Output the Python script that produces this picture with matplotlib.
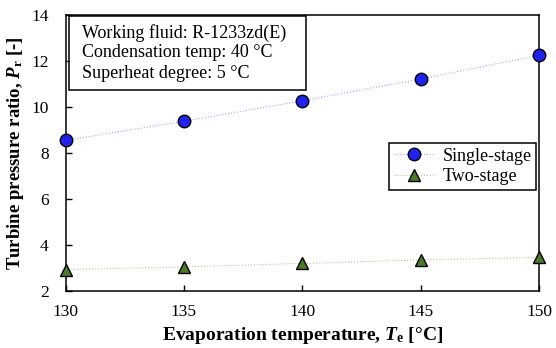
import matplotlib
matplotlib.use("Agg")
import matplotlib.pyplot as plt
from matplotlib.patches import Rectangle

plt.rcParams['font.family'] = ['Liberation Serif', 'DejaVu Serif']
plt.rcParams['mathtext.fontset'] = 'custom'
plt.rcParams['mathtext.it'] = 'Liberation Serif:italic:bold'
plt.rcParams['mathtext.bf'] = 'Liberation Serif:bold'
plt.rcParams['mathtext.rm'] = 'Liberation Serif:bold'

temps = [130, 135, 140, 145, 150]
single_stage = [8.55, 9.38, 10.27, 11.22, 12.25]
two_stage = [2.93, 3.05, 3.20, 3.35, 3.46]
xticks = [130, 135, 140, 145, 150]
yticks = [2, 4, 6, 8, 10, 12, 14]
info_lines = ['Working fluid: R-1233zd(E)', 'Condensation temp: 40 °C', 'Superheat degree: 5 °C']

W, H = 556, 348
L, R, T, B = 65.5, 539, 15, 291
fig = plt.figure(figsize=(W/100, H/100), dpi=100)
ax = fig.add_axes([L/W, 1-B/H, (R-L)/W, (B-T)/H])

def ax_x(px):
    return (px - L) / (R - L)

def ax_y(py):
    return (B - py) / (B - T)

ax.plot(temps, single_stage, linestyle=':', color='#a8a8ff', linewidth=0.8,
        marker='o', markersize=9, markerfacecolor='#2222ee', markeredgecolor='black',
        markeredgewidth=1.0, label='Single-stage', clip_on=False, zorder=3)
ax.plot(temps, two_stage, linestyle=':', color='#b0cc98', linewidth=0.8,
        marker='^', markersize=8.5, markerfacecolor='#4a7a2a', markeredgecolor='black',
        markeredgewidth=1.0, label='Two-stage', clip_on=False, zorder=3)

ax.set_xlim(130, 150)
ax.set_ylim(2, 14)
ax.set_xticks(xticks)
ax.set_yticks(yticks)
ax.tick_params(direction='in', labelsize=12.5, length=4, width=1)
ax.tick_params(axis='x', pad=9)
ax.tick_params(axis='y', pad=12)
for s in ax.spines.values():
    s.set_linewidth(1.1)

ax.set_xlabel(r'Evaporation temperature, $T_{\rm e}$ [°C]', fontsize=14, fontweight='bold', labelpad=4)
ax.set_ylabel(r'Turbine pressure ratio, $P_{\rm r}$ [-]', fontsize=13.5, fontweight='bold', labelpad=4)

ax.add_patch(Rectangle((ax_x(69), ax_y(90)), ax_x(306) - ax_x(69), ax_y(16) - ax_y(90),
                       transform=ax.transAxes, facecolor='white', edgecolor='black',
                       linewidth=1.1, zorder=4, clip_on=False))
for line, py in zip(info_lines, [33, 53, 73]):
    ax.text(ax_x(82), ax_y(py), line, transform=ax.transAxes, fontsize=13,
            va='center', ha='left', zorder=5)

leg = ax.legend(loc='upper right', bbox_to_anchor=(ax_x(536), ax_y(143)), borderaxespad=0,
                fontsize=13, frameon=True, fancybox=False, edgecolor='black', framealpha=1,
                borderpad=0.25, handlelength=2.3, handletextpad=0.4, labelspacing=0.2)
leg.get_frame().set_linewidth(1.1)

fig.savefig('out.png', dpi=100)
